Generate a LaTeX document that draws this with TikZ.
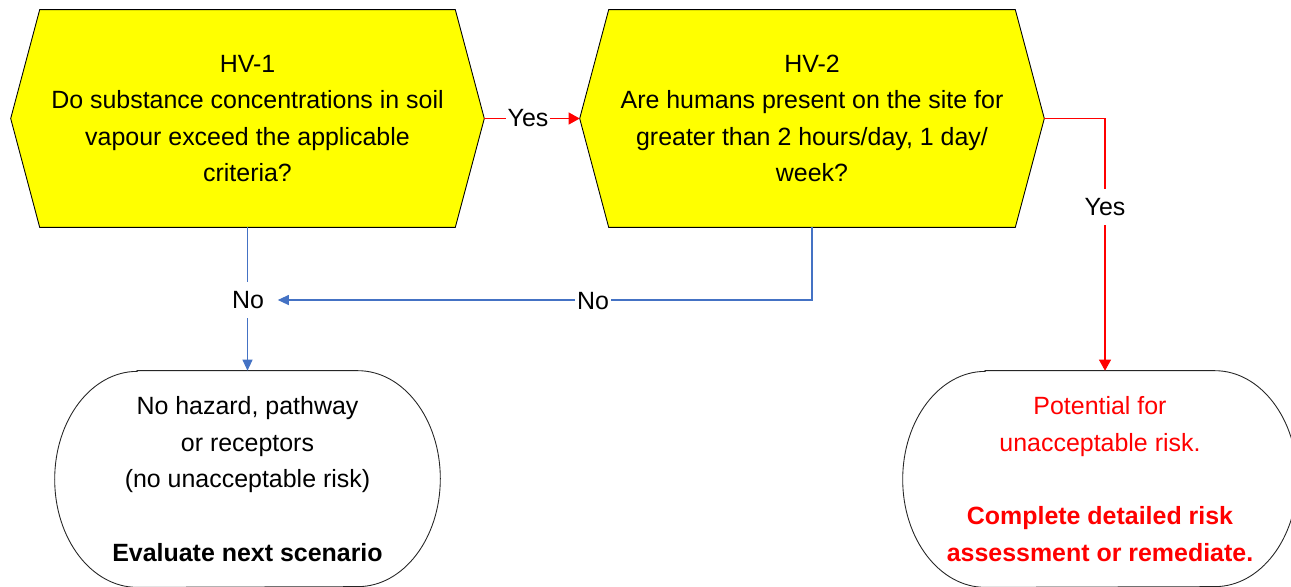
\documentclass[tikz,border=0pt]{standalone}
\usepackage{fontspec}
\setmainfont{Liberation Sans}
\usetikzlibrary{arrows.meta,backgrounds,calc}

\definecolor{queryfill}{RGB}{255,255,0}
\definecolor{noblue}{RGB}{68,114,196}
\definecolor{yesred}{RGB}{255,0,0}

\tikzset{
  body/.style={font=\fontsize{14.2}{20.8}\selectfont},
  query/.style={body, rectangle, align=center, inner sep=0pt,
    minimum height=4.34cm},
  outcome/.style={body, rectangle, align=center, inner sep=0pt,
    minimum height=4.32cm},
  hexline/.style={draw=black, line width=0.5pt, fill=queryfill},
  termline/.style={draw=black!85, line width=0.5pt, fill=white},
  yesflow/.style={draw=yesred, line width=0.6pt,
    -{Triangle[length=0.22cm,width=0.24cm]}},
  noflow/.style={draw=noblue, line width=0.6pt,
    -{Triangle[length=0.22cm,width=0.2cm]}},
  flowlabel/.style={body, fill=white, inner xsep=1pt, inner ysep=0.18cm},
}

\begin{document}
\begin{tikzpicture}[x=0.02cm,y=-0.02cm]
\useasboundingbox (0,0) rectangle (1291,586);

% decision steps (text; hexagonal outlines are drawn on the background layer)
\node[query, minimum width=9.46cm] (hv1) at (247.5,118.5)
  {HV-1\\Do substance concentrations in soil\\vapour exceed the applicable\\criteria?};
\node[query, minimum width=9.28cm] (hv2) at (812,118.5)
  {HV-2\\Are humans present on the site for\\greater than 2 hours/day, 1 day/\\week?};

% outcomes
\node[outcome, minimum width=7.7cm] (safe) at (247.5,479)
  {No hazard, pathway\\or receptors\\(no unacceptable risk)\\[20.8pt]\textbf{Evaluate next scenario}};
\node[outcome, minimum width=7.88cm, text=yesred] (risk) at (1100,479)
  {Potential for\\unacceptable risk.\\[20.8pt]\textbf{Complete detailed risk}\\\textbf{assessment or remediate.}};

\begin{scope}[on background layer]
  % hexagons: pointed at west and east, corners set in by 29px
  \foreach \n in {hv1,hv2}{
    \path[hexline] (\n.west) -- ([xshift=0.58cm]\n.north west)
      -- ([xshift=-0.58cm]\n.north east) -- (\n.east)
      -- ([xshift=-0.58cm]\n.south east) -- ([xshift=0.58cm]\n.south west)
      -- cycle;
  }
  % outcome boxes with elliptical ends
  \foreach \n in {safe,risk}{
    \path[termline] ([xshift=1.65cm]\n.north west) -- ([xshift=-1.65cm]\n.north east)
      arc[start angle=90, end angle=-90, x radius=1.65cm, y radius=2.16cm]
      -- ([xshift=1.65cm]\n.south west)
      arc[start angle=270, end angle=90, x radius=1.65cm, y radius=2.16cm]
      -- cycle;
  }
\end{scope}

% connector labels
\node[flowlabel] (yesA) at (528,118) {Yes};
\node[flowlabel] (yesB) at (1105,207) {Yes};
\node[flowlabel, inner xsep=0.27cm] (noA) at (248,300) {No};
\node[flowlabel] (noB) at (593,301) {No};

% connectors
\coordinate (riskTop) at ([xshift=0.1cm]risk.north);
\begin{scope}[on background layer]
  \draw[yesflow] (hv1.east) -- (hv2.west);
  \draw[yesflow] (hv2.east) -| (riskTop);
  \draw[noflow] (hv1.south) -- (safe.north);
  \draw[noflow] (hv2.south) |- (noA.east);
\end{scope}
\end{tikzpicture}
\end{document}
